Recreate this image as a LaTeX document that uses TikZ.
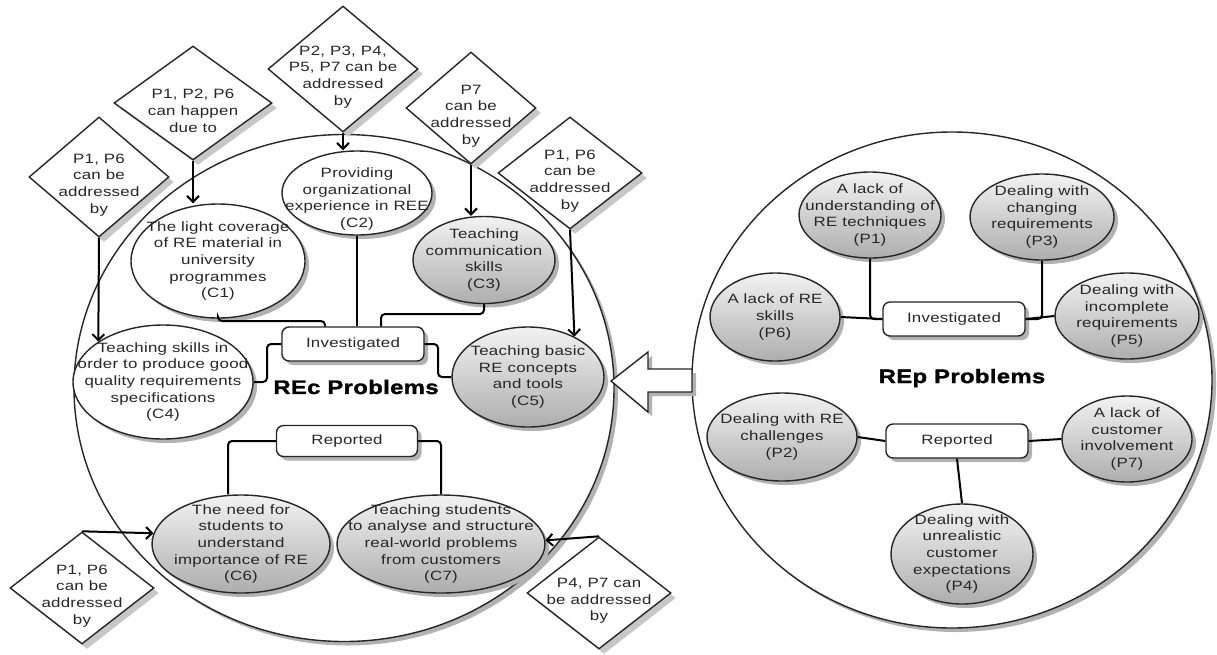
\documentclass[tikz,border=0pt]{standalone}
\usepackage{fontspec}
\setmainfont{Liberation Sans}[FakeStretch=1.25,LetterSpace=2]
\newfontfamily\ttlfont{Liberation Sans Bold}[FakeStretch=1.22,LetterSpace=2,FakeBold=1.5]
\usetikzlibrary{shapes.geometric,shadows,arrows.meta,calc}
\tikzset{
  shapebase/.style={line width=1.4pt, draw=black!85, inner sep=0pt},
  shad/.style={drop shadow={shadow xshift=4pt, shadow yshift=-4pt, fill=black!30, opacity=1}},
  lshad/.style={drop shadow={shadow xshift=5pt, shadow yshift=-5pt, fill=black!22, opacity=1}},
  ell/.style args={#1/#2}{shapebase, ellipse, minimum width=#1pt, minimum height=#2pt, fill=white, shad},
  gell/.style args={#1/#2}{ell=#1/#2, top color=black!5, bottom color=black!32},
  rbox/.style={shapebase, rectangle, rounded corners=7pt, minimum width=142pt, minimum height=34pt, fill=white, shad},
  dia/.style args={#1/#2}{shapebase, diamond, minimum width=#1pt, minimum height=#2pt, fill=white, lshad},
  txt/.style={font=\fontsize{13.5}{16.7}\selectfont, align=center, text=black!85, inner sep=0pt},
  dtxt/.style={txt, yshift=-8pt},
  ttl/.style={font=\ttlfont\fontsize{19.5}{22}\selectfont, text=black, inner sep=0pt},
  conn/.style={draw=black, line width=2pt, rounded corners=4pt},
  arr/.style={draw=black, line width=2pt, -{Straight Barb[length=6pt,width=12pt]}},
}
\begin{document}
\begin{tikzpicture}[x=1pt,y=-1pt]
\useasboundingbox (0,0) rectangle (1217,654);
\fill[white] (0,0) rectangle (1217,654);

% big circles
\node[shapebase, ellipse, minimum width=540pt, minimum height=507pt, fill=white, shad] (lc) at (344,388) {};
\node[shapebase, ellipse, minimum width=520pt, minimum height=496pt, fill=white, shad] (rc) at (952,380) {};

% hollow arrow
\draw[line width=1.4pt, draw=black!85, fill=white, shad]
  (611,381) -- (648,352) -- (648,369) -- (692,369) -- (692,392) -- (648,392) -- (648,412) -- cycle;

% titles
\node[ttl] (rect) at (356,387) {REc Problems};
\node[ttl] (rept) at (962,378) {REp Problems};

% left side ellipses
\node[ell=174/114] (c1) at (218,261) {};
\node[txt] (c1t) at (c1) {The light coverage\\of RE material in\\university\\programmes\\(C1)};
\node[ell=150/84] (c2) at (357,193) {};
\node[txt] (c2t) at ([yshift=-6pt]c2.center) {Providing\\organizational\\experience in REE\\(C2)};
\node[gell=142/87] (c3) at (484,260) {};
\node[txt] (c3t) at (c3) {Teaching\\communication\\skills\\(C3)};
\node[ell=180/114] (c4) at (163,382) {};
\node[txt] (c4t) at (c4) {Teaching skills in\\order to produce good\\quality requirements\\specifications\\(C4)};
\node[gell=152/100] (c5) at (528,377) {};
\node[txt] (c5t) at (c5) {Teaching basic\\RE concepts\\and tools\\(C5)};
\node[gell=178/98] (c6) at (241,544) {};
\node[txt] (c6t) at (c6) {The need for\\students to\\understand\\importance of RE\\(C6)};
\node[gell=208/98] (c7) at (441,544) {};
\node[txt] (c7t) at (c7) {Teaching students\\to analyse and structure\\real-world problems\\from customers\\(C7)};

\node[rbox] (inv) at (353,344) {};
\node[txt] (invt) at (inv) {Investigated};
\node[rbox, minimum height=31pt, minimum width=141pt] (rep) at (347,441) {};
\node[txt] (rept2) at (rep) {Reported};

% right side ellipses
\node[gell=142/86] (p1) at (870,215) {};
\node[txt] (p1t) at (p1) {A lack of\\understanding of\\RE techniques\\(P1)};
\node[gell=144/86] (p3) at (1042,217) {};
\node[txt] (p3t) at (p3) {Dealing with\\changing\\requirements\\(P3)};
\node[gell=130/88] (p6) at (775,317) {};
\node[txt] (p6t) at (p6) {A lack of RE\\skills\\(P6)};
\node[gell=144/86] (p5) at (1127,316) {};
\node[txt] (p5t) at (p5) {Dealing with\\incomplete\\requirements\\(P5)};
\node[gell=150/88] (p2) at (782,437) {};
\node[txt] (p2t) at (p2) {Dealing with RE\\challenges\\(P2)};
\node[gell=130/86] (p7) at (1127,439) {};
\node[txt] (p7t) at (p7) {A lack of\\customer\\involvement\\(P7)};
\node[gell=142/100] (p4) at (962,554) {};
\node[txt] (p4t) at (p4) {Dealing with\\unrealistic\\customer\\expectations\\(P4)};

\node[rbox] (invr) at (954,319) {};
\node[txt] (invrt) at (invr) {Investigated};
\node[rbox] (repr) at (957,441) {};
\node[txt] (reprt) at (repr) {Reported};

% diamonds
\node[dia=140/120] (d1) at (99,177) {};
\node[dtxt] (d1t) at (d1) {P1, P6\\can be\\addressed\\by};
\node[dia=158/114] (d2) at (193,103) {};
\node[dtxt] (d2t) at (d2) {P1, P2, P6\\can happen\\due to};
\node[dia=150/126] (d3) at (343,69) {};
\node[dtxt] (d3t) at (d3) {P2, P3, P4,\\P5, P7 can be\\addressed\\by};
\node[dia=130/112] (d4) at (471,108) {};
\node[dtxt] (d4t) at (d4) {P7\\can be\\addressed\\by};
\node[dia=144/112] (d5) at (570,173) {};
\node[dtxt] (d5t) at (d5) {P1, P6\\can be\\addressed\\by};
\node[dia=144/112] (d6) at (82,588) {};
\node[dtxt] (d6t) at (d6) {P1, P6\\can be\\addressed\\by};
\node[dia=144/112] (d7) at (599,593) {};
\node[dtxt] (d7t) at (d7) {P4, P7 can\\be addressed\\by};

% left connectors
\coordinate (k1) at (325,321);
\coordinate (k2) at (381,314);
\coordinate (k3) at (267,362);
\coordinate (k4) at (438,360);
\draw[conn] (c1.south) |- (k1) -- (k1 |- inv.north);
\draw[conn] (c2.south) -- (c2.south |- inv.north);
\draw[conn] (c3.south) |- (k2) -- (k2 |- inv.north);
\draw[conn] (inv.west) -| (k3) |- (c4.east);
\draw[conn] (inv.east) -| (k4) |- (c5.west);
\draw[conn] (rep.west) -| ([xshift=-13pt]c6.north);
\draw[conn] (rep.east) -| (c7.north);

% right connectors
\draw[conn] (p6.east) -- (invr.west);
\draw[conn] (p1.south) |- (invr.west);
\draw[conn] (p3.south) |- (invr.east);
\draw[conn] (invr.east) -- (p5.west);
\draw[conn] (p2.east) -- (repr.west);
\draw[conn] (repr.east) -- (p7.west);
\draw[conn] (repr.south) -- (p4.north);

% diamond arrows
\draw[arr] (d1.south) -- (c4.148);
\draw[arr] (d2.south) -- (d2.south |- c1.north);
\draw[arr] (d3.south) -- (d3.south |- c2.north);
\draw[arr] (d4.south) -- (d4.south |- c3.north);
\draw[arr] (d5.south) -- (c5.41);
\draw[arr] (d6.north) -- (c6.173);
\draw[arr] (d7.north) -- (c7.2);
\end{tikzpicture}
\end{document}
